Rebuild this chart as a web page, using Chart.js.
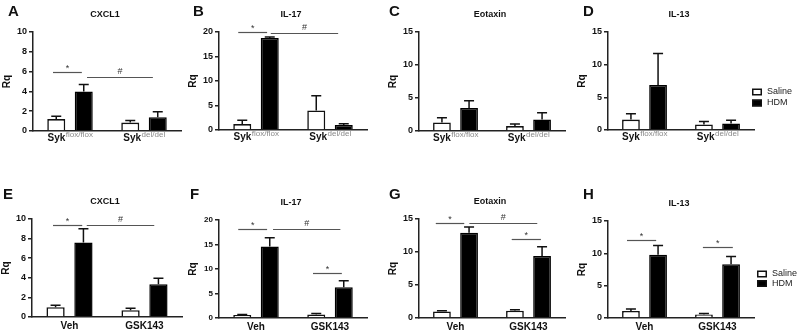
<!DOCTYPE html>
<html><head><meta charset="utf-8">
<script src="https://cdn.jsdelivr.net/npm/chart.js@4"></script>
<style>
html,body{margin:0;padding:0;background:#fff;}
#wrap{position:relative;width:800px;height:332px;overflow:hidden;background:#fff;}
#wrap canvas{position:absolute;left:0;top:0;}
</style></head><body><div id="wrap"></div>
<script>
// ---------- data ----------
const panelLetters = ["A","B","C","D","E","F","G","H"];
const panelTitles = ["CXCL1","IL-17","Eotaxin","IL-13","CXCL1","IL-17","Eotaxin","IL-13"];
const topCategories = ["Syk","Syk"];
const topCategorySup = ["flox/flox","del/del"];
const bottomCategories = ["Veh","GSK143"];
const seriesNames = ["Saline","HDM"];
const yAxisLabel = "Rq";
const yMax  = [10,20,15,15,10,20,15,15];
const yStep = [2,5,5,5,2,5,5,5];
const salineMean = [[1.2,0.85],[1.2,4.0],[1.3,0.75],[1.6,0.85],[1.0,0.7],[0.6,0.7],[1.0,1.1],[1.1,0.55]];
const salineSem  = [[0.3,0.2],[0.8,3.0],[0.7,0.3],[0.9,0.45],[0.2,0.2],[0.1,0.2],[0.1,0.15],[0.3,0.15]];
const hdmMean    = [[4.0,1.4],[18.8,1.0],[3.5,1.75],[6.9,1.0],[7.6,3.35],[14.6,6.3],[12.9,9.4],[9.8,8.3]];
const hdmSem     = [[0.7,0.55],[0.2,0.3],[1.1,1.0],[4.8,0.5],[1.4,0.6],[1.8,1.3],[0.9,1.4],[1.4,1.2]];
// significance bars: [from category, to category, y value, symbol]
const sigBars = [
  [[-0.23,0.16,6.0,"*"],[0.23,1.12,5.5,"#"]],
  [[-0.24,0.15,20.1,"*"],[0.20,1.11,19.8,"#"]],
  [],
  [],
  [[-0.22,0.17,9.4,"*"],[0.23,1.13,9.4,"#"]],
  [[-0.24,0.15,18.2,"*"],[0.23,1.14,18.2,"#"],[0.77,1.16,9.2,"*"]],
  [[-0.27,0.12,14.4,"*"],[0.19,1.12,14.4,"#"],[0.77,1.17,12.0,"*"]],
  [[-0.24,0.16,12.1,"*"],[0.80,1.21,11.0,"*"]]
];

// ---------- layout (page pixels) ----------
const W = 800, H = 332, YW = 24, XH = 1;
const layout = [
  {left:33, top:32, right:181, bottom:131, lx:8,   ly:15},
  {left:219,top:32, right:367, bottom:130, lx:193, ly:15},
  {left:419,top:32, right:565, bottom:131, lx:389, ly:15},
  {left:608,top:32, right:754, bottom:130, lx:583, ly:15, legX:752, legY:92, legGap:11},
  {left:32, top:219,right:182, bottom:317, lx:3,   ly:198},
  {left:219,top:220,right:367, bottom:318, lx:190, ly:198},
  {left:419,top:219,right:565, bottom:318, lx:389, ly:198},
  {left:608,top:221,right:754, bottom:318, lx:583, ly:198, legX:757, legY:274, legGap:9.5}
];
const FONT = '"Liberation Sans", Arial, sans-serif';
const INK = '#111';

function annot(p){
  const L = layout[p];
  return { id:'annot'+p, afterDraw(chart){
    const ctx = chart.ctx, xs = chart.scales.x, ys = chart.scales.y, a = chart.chartArea;
    ctx.save();
    // error bars
    const means = [salineMean[p], hdmMean[p]], sems = [salineSem[p], hdmSem[p]];
    ctx.strokeStyle = INK; ctx.lineWidth = 1.5;
    [0,1].forEach(d => {
      chart.getDatasetMeta(d).data.forEach((bar, j) => {
        const y0 = ys.getPixelForValue(means[d][j]);
        const y1 = ys.getPixelForValue(means[d][j] + sems[d][j]);
        ctx.beginPath();
        ctx.moveTo(bar.x, y0); ctx.lineTo(bar.x, y1);
        ctx.moveTo(bar.x - 5, y1); ctx.lineTo(bar.x + 5, y1);
        ctx.stroke();
      });
    });
    // significance bars
    sigBars[p].forEach(s => {
      const x1 = xs.getPixelForValue(s[0]), x2 = xs.getPixelForValue(s[1]);
      const y = Math.round(ys.getPixelForValue(s[2])) + 0.5;
      ctx.strokeStyle = '#555'; ctx.lineWidth = 1.2;
      ctx.beginPath(); ctx.moveTo(x1, y); ctx.lineTo(x2, y); ctx.stroke();
      ctx.fillStyle = '#333'; ctx.font = '9px ' + FONT;
      ctx.textAlign = 'center'; ctx.textBaseline = 'alphabetic';
      ctx.fillText(s[3], (x1 + x2) / 2, y - (s[3] === '*' ? 2 : 4));
    });
    // x category labels
    for (let j = 0; j < 2; j++) {
      const cx = xs.getPixelForValue(j);
      ctx.fillStyle = INK; ctx.textBaseline = 'alphabetic';
      if (p < 4) {
        ctx.font = 'bold 10px ' + FONT;
        const w1 = ctx.measureText(topCategories[j]).width;
        ctx.font = '8px ' + FONT;
        const w2 = ctx.measureText(topCategorySup[j]).width;
        const x0 = cx - (w1 + w2) / 2;
        ctx.textAlign = 'left';
        ctx.font = 'bold 10px ' + FONT;
        ctx.fillText(topCategories[j], x0, a.bottom + 9.5);
        ctx.font = '8px ' + FONT; ctx.fillStyle = '#888';
        ctx.fillText(topCategorySup[j], x0 + w1 + 0.5, a.bottom + 6);
      } else {
        ctx.font = 'bold 10px ' + FONT; ctx.textAlign = 'center';
        ctx.fillText(bottomCategories[j], cx, a.bottom + 12);
      }
    }
    // y axis title
    ctx.save();
    ctx.translate(a.left - 26, (a.top + a.bottom) / 2);
    ctx.rotate(-Math.PI / 2);
    ctx.font = 'bold 10px ' + FONT; ctx.fillStyle = INK;
    ctx.textAlign = 'center'; ctx.textBaseline = 'middle';
    ctx.fillText(yAxisLabel, 0, 0);
    ctx.restore();
    // panel title
    ctx.font = 'bold 9px ' + FONT; ctx.fillStyle = INK;
    ctx.textAlign = 'center'; ctx.textBaseline = 'middle';
    ctx.fillText(panelTitles[p], (a.left + a.right) / 2 - 2, a.top - 17);
    // panel letter
    ctx.font = 'bold 15px ' + FONT; ctx.textAlign = 'left'; ctx.textBaseline = 'alphabetic';
    ctx.fillText(panelLetters[p], L.lx, L.ly + 1);
    // legend
    if (L.legX !== undefined) {
      chart.data.datasets.forEach((ds, k) => {
        const cy = L.legY + k * L.legGap;
        ctx.fillStyle = ds.backgroundColor; ctx.strokeStyle = INK; ctx.lineWidth = 1.5;
        ctx.fillRect(L.legX, cy - 3.5, 10, 7);
        ctx.strokeRect(L.legX + 0.75, cy - 2.75, 8.5, 5.5);
        ctx.fillStyle = '#222'; ctx.font = '9px ' + FONT;
        ctx.textAlign = 'left'; ctx.textBaseline = 'middle';
        ctx.fillText(ds.label, L.legX + 15, cy);
      });
    }
    ctx.restore();
  }};
}

const wrap = document.getElementById('wrap');
layout.forEach((L, p) => {
  const c = document.createElement('canvas');
  c.width = W; c.height = H;
  c.style.width = W + 'px'; c.style.height = H + 'px';
  wrap.appendChild(c);
  const labels = p < 4 ? topCategories.map((b, i) => b + ' ' + topCategorySup[i]) : bottomCategories;
  new Chart(c, {
    type: 'bar',
    data: {
      labels: labels,
      datasets: [
        {label: seriesNames[0], data: salineMean[p], backgroundColor: '#fff', borderColor: INK, borderWidth: 1.6,
         categoryPercentage: 0.743, barPercentage: 0.655},
        {label: seriesNames[1], data: hdmMean[p], backgroundColor: '#000', borderColor: '#000', borderWidth: 1.5,
         categoryPercentage: 0.743, barPercentage: 0.655}
      ]
    },
    options: {
      responsive: false, animation: false, devicePixelRatio: 1,
      layout: {padding: {left: L.left - YW, top: L.top, right: W - L.right, bottom: H - L.bottom - XH}},
      plugins: {legend: {display: false}, tooltip: {enabled: false}, title: {display: false}},
      scales: {
        x: {
          offset: true,
          grid: {display: false, drawTicks: false},
          border: {display: true, color: '#222', width: 1.5},
          ticks: {display: false},
          afterFit(s) { s.height = XH; }
        },
        y: {
          min: 0, max: yMax[p],
          ticks: {stepSize: yStep[p], color: INK, padding: 2, font: {family: FONT, size: p === 5 ? 8 : 9, weight: 'bold'}},
          grid: {display: true, drawOnChartArea: false, drawTicks: true, tickLength: 4, color: '#222', lineWidth: 1.5},
          border: {display: true, color: '#222', width: 1.5},
          afterFit(s) { s.width = YW; }
        }
      }
    },
    plugins: [annot(p)]
  });
});
</script>
</body></html>
